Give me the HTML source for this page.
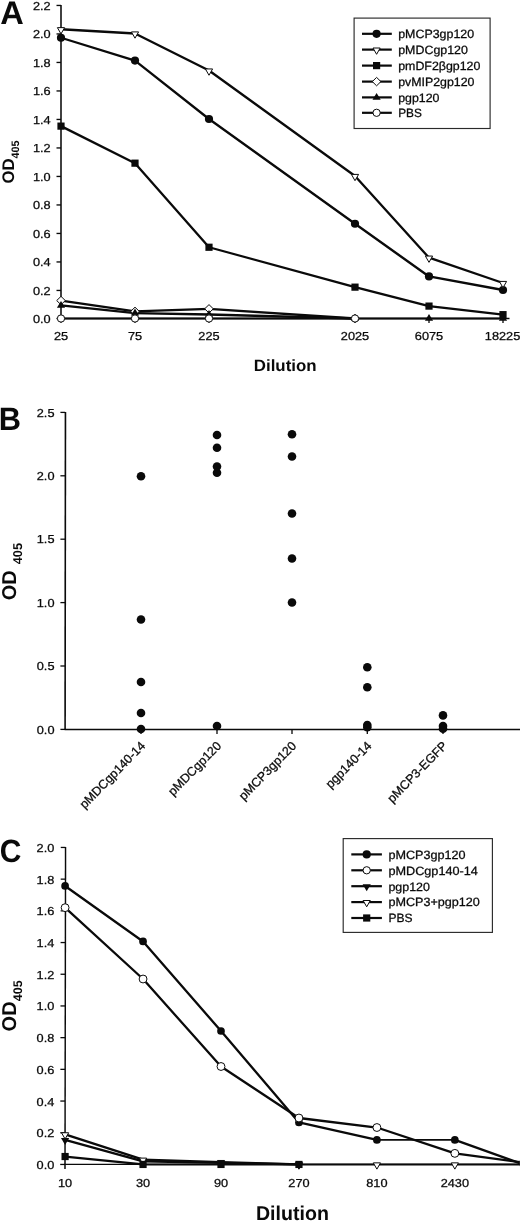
<!DOCTYPE html>
<html><head><meta charset="utf-8"><title>Figure</title>
<style>
html,body{margin:0;padding:0;background:#fff;}
body{width:520px;height:1222px;overflow:hidden;font-family:"Liberation Sans", sans-serif;}
svg{display:block;font-family:"Liberation Sans", sans-serif;text-rendering:geometricPrecision;}
#all{filter:blur(0.35px);}
</style></head><body>
<svg width="520" height="1222" viewBox="0 0 520 1222">
<rect x="0" y="0" width="520" height="1222" fill="#ffffff"/>
<g id="all">
<line x1="61.0" y1="5.0" x2="61.0" y2="319.0" stroke="#0a0a0a" stroke-width="1.55" stroke-linecap="butt"/>
<line x1="56.5" y1="318.5" x2="61.0" y2="318.5" stroke="#0a0a0a" stroke-width="1.35" stroke-linecap="butt"/>
<text transform="translate(50.7 322.65) scale(1.1 1)" font-size="11.6" font-weight="normal" text-anchor="end" fill="#0a0a0a" stroke="#0a0a0a" stroke-width="0.28">0.0</text>
<line x1="56.5" y1="290.45" x2="61.0" y2="290.45" stroke="#0a0a0a" stroke-width="1.35" stroke-linecap="butt"/>
<text transform="translate(50.7 294.59999999999997) scale(1.1 1)" font-size="11.6" font-weight="normal" text-anchor="end" fill="#0a0a0a" stroke="#0a0a0a" stroke-width="0.28">0.2</text>
<line x1="56.5" y1="261.95" x2="61.0" y2="261.95" stroke="#0a0a0a" stroke-width="1.35" stroke-linecap="butt"/>
<text transform="translate(50.7 266.09999999999997) scale(1.1 1)" font-size="11.6" font-weight="normal" text-anchor="end" fill="#0a0a0a" stroke="#0a0a0a" stroke-width="0.28">0.4</text>
<line x1="56.5" y1="233.45" x2="61.0" y2="233.45" stroke="#0a0a0a" stroke-width="1.35" stroke-linecap="butt"/>
<text transform="translate(50.7 237.6) scale(1.1 1)" font-size="11.6" font-weight="normal" text-anchor="end" fill="#0a0a0a" stroke="#0a0a0a" stroke-width="0.28">0.6</text>
<line x1="56.5" y1="204.95" x2="61.0" y2="204.95" stroke="#0a0a0a" stroke-width="1.35" stroke-linecap="butt"/>
<text transform="translate(50.7 209.1) scale(1.1 1)" font-size="11.6" font-weight="normal" text-anchor="end" fill="#0a0a0a" stroke="#0a0a0a" stroke-width="0.28">0.8</text>
<line x1="56.5" y1="176.45" x2="61.0" y2="176.45" stroke="#0a0a0a" stroke-width="1.35" stroke-linecap="butt"/>
<text transform="translate(50.7 180.6) scale(1.1 1)" font-size="11.6" font-weight="normal" text-anchor="end" fill="#0a0a0a" stroke="#0a0a0a" stroke-width="0.28">1.0</text>
<line x1="56.5" y1="147.94999999999996" x2="61.0" y2="147.94999999999996" stroke="#0a0a0a" stroke-width="1.35" stroke-linecap="butt"/>
<text transform="translate(50.7 152.09999999999997) scale(1.1 1)" font-size="11.6" font-weight="normal" text-anchor="end" fill="#0a0a0a" stroke="#0a0a0a" stroke-width="0.28">1.2</text>
<line x1="56.5" y1="119.44999999999997" x2="61.0" y2="119.44999999999997" stroke="#0a0a0a" stroke-width="1.35" stroke-linecap="butt"/>
<text transform="translate(50.7 123.59999999999998) scale(1.1 1)" font-size="11.6" font-weight="normal" text-anchor="end" fill="#0a0a0a" stroke="#0a0a0a" stroke-width="0.28">1.4</text>
<line x1="56.5" y1="90.95" x2="61.0" y2="90.95" stroke="#0a0a0a" stroke-width="1.35" stroke-linecap="butt"/>
<text transform="translate(50.7 95.10000000000001) scale(1.1 1)" font-size="11.6" font-weight="normal" text-anchor="end" fill="#0a0a0a" stroke="#0a0a0a" stroke-width="0.28">1.6</text>
<line x1="56.5" y1="62.45" x2="61.0" y2="62.45" stroke="#0a0a0a" stroke-width="1.35" stroke-linecap="butt"/>
<text transform="translate(50.7 66.60000000000001) scale(1.1 1)" font-size="11.6" font-weight="normal" text-anchor="end" fill="#0a0a0a" stroke="#0a0a0a" stroke-width="0.28">1.8</text>
<line x1="56.5" y1="33.95" x2="61.0" y2="33.95" stroke="#0a0a0a" stroke-width="1.35" stroke-linecap="butt"/>
<text transform="translate(50.7 38.1) scale(1.1 1)" font-size="11.6" font-weight="normal" text-anchor="end" fill="#0a0a0a" stroke="#0a0a0a" stroke-width="0.28">2.0</text>
<line x1="56.5" y1="5.45" x2="61.0" y2="5.45" stroke="#0a0a0a" stroke-width="1.35" stroke-linecap="butt"/>
<text transform="translate(50.7 9.600000000000001) scale(1.1 1)" font-size="11.6" font-weight="normal" text-anchor="end" fill="#0a0a0a" stroke="#0a0a0a" stroke-width="0.28">2.2</text>
<line x1="61.0" y1="318.5" x2="509.5" y2="318.5" stroke="#0a0a0a" stroke-width="1.3" stroke-linecap="butt"/>
<line x1="61" y1="318.5" x2="61" y2="323.1" stroke="#0a0a0a" stroke-width="1.3" stroke-linecap="butt"/>
<line x1="135" y1="318.5" x2="135" y2="323.1" stroke="#0a0a0a" stroke-width="1.3" stroke-linecap="butt"/>
<line x1="209" y1="318.5" x2="209" y2="323.1" stroke="#0a0a0a" stroke-width="1.3" stroke-linecap="butt"/>
<line x1="355" y1="318.5" x2="355" y2="323.1" stroke="#0a0a0a" stroke-width="1.3" stroke-linecap="butt"/>
<line x1="429" y1="318.5" x2="429" y2="323.1" stroke="#0a0a0a" stroke-width="1.3" stroke-linecap="butt"/>
<line x1="503" y1="318.5" x2="503" y2="323.1" stroke="#0a0a0a" stroke-width="1.3" stroke-linecap="butt"/>
<text transform="translate(61 340.4) scale(1.1 1)" font-size="11.6" font-weight="normal" text-anchor="middle" fill="#0a0a0a" stroke="#0a0a0a" stroke-width="0.28">25</text>
<text transform="translate(135 340.4) scale(1.1 1)" font-size="11.6" font-weight="normal" text-anchor="middle" fill="#0a0a0a" stroke="#0a0a0a" stroke-width="0.28">75</text>
<text transform="translate(209 340.4) scale(1.1 1)" font-size="11.6" font-weight="normal" text-anchor="middle" fill="#0a0a0a" stroke="#0a0a0a" stroke-width="0.28">225</text>
<text transform="translate(355 340.4) scale(1.1 1)" font-size="11.6" font-weight="normal" text-anchor="middle" fill="#0a0a0a" stroke="#0a0a0a" stroke-width="0.28">2025</text>
<text transform="translate(429 340.4) scale(1.1 1)" font-size="11.6" font-weight="normal" text-anchor="middle" fill="#0a0a0a" stroke="#0a0a0a" stroke-width="0.28">6075</text>
<text transform="translate(520.3 340.4) scale(1.1 1)" font-size="11.6" font-weight="normal" text-anchor="end" fill="#0a0a0a" stroke="#0a0a0a" stroke-width="0.28">18225</text>
<text transform="translate(285.2 370.9)" font-size="16.3" font-weight="bold" text-anchor="middle" fill="#0a0a0a" textLength="62.8" lengthAdjust="spacingAndGlyphs">Dilution</text>
<text transform="translate(0.2 23.7)" font-size="32.6" font-weight="bold" text-anchor="start" fill="#0a0a0a">A</text>
<text transform="translate(13.5 183.6) rotate(-90)" font-size="16.8" font-weight="bold" text-anchor="start" fill="#0a0a0a">OD</text>
<text transform="translate(18.9 158.5) rotate(-90)" font-size="10.8" font-weight="bold" text-anchor="start" fill="#0a0a0a">405</text>
<line x1="61.00" y1="37.77" x2="135.00" y2="60.57" stroke="#0a0a0a" stroke-width="2.3" stroke-linecap="round"/>
<line x1="135.00" y1="60.57" x2="209.00" y2="119.00" stroke="#0a0a0a" stroke-width="2.3" stroke-linecap="round"/>
<line x1="209.00" y1="119.00" x2="355.00" y2="223.74" stroke="#0a0a0a" stroke-width="2.3" stroke-linecap="round"/>
<line x1="355.00" y1="223.74" x2="429.00" y2="276.46" stroke="#0a0a0a" stroke-width="2.3" stroke-linecap="round"/>
<line x1="429.00" y1="276.46" x2="503.00" y2="290.00" stroke="#0a0a0a" stroke-width="2.3" stroke-linecap="round"/>
<line x1="61.00" y1="29.23" x2="135.00" y2="33.50" stroke="#0a0a0a" stroke-width="2.3" stroke-linecap="round"/>
<line x1="135.00" y1="33.50" x2="209.00" y2="70.55" stroke="#0a0a0a" stroke-width="2.3" stroke-linecap="round"/>
<line x1="209.00" y1="70.55" x2="355.00" y2="176.00" stroke="#0a0a0a" stroke-width="2.3" stroke-linecap="round"/>
<line x1="355.00" y1="176.00" x2="429.00" y2="257.65" stroke="#0a0a0a" stroke-width="2.3" stroke-linecap="round"/>
<line x1="429.00" y1="257.65" x2="503.00" y2="283.02" stroke="#0a0a0a" stroke-width="2.3" stroke-linecap="round"/>
<line x1="61.00" y1="126.12" x2="135.00" y2="163.17" stroke="#0a0a0a" stroke-width="2.3" stroke-linecap="round"/>
<line x1="135.00" y1="163.17" x2="209.00" y2="247.25" stroke="#0a0a0a" stroke-width="2.3" stroke-linecap="round"/>
<line x1="209.00" y1="247.25" x2="355.00" y2="287.15" stroke="#0a0a0a" stroke-width="2.3" stroke-linecap="round"/>
<line x1="355.00" y1="287.15" x2="429.00" y2="306.10" stroke="#0a0a0a" stroke-width="2.3" stroke-linecap="round"/>
<line x1="429.00" y1="306.10" x2="503.00" y2="314.65" stroke="#0a0a0a" stroke-width="2.3" stroke-linecap="round"/>
<line x1="61.00" y1="300.55" x2="135.00" y2="311.38" stroke="#0a0a0a" stroke-width="2.3" stroke-linecap="round"/>
<line x1="135.00" y1="311.38" x2="209.00" y2="308.81" stroke="#0a0a0a" stroke-width="2.3" stroke-linecap="round"/>
<line x1="209.00" y1="308.81" x2="355.00" y2="318.50" stroke="#0a0a0a" stroke-width="2.3" stroke-linecap="round"/>
<line x1="61.00" y1="305.39" x2="135.00" y2="313.08" stroke="#0a0a0a" stroke-width="2.3" stroke-linecap="round"/>
<line x1="135.00" y1="313.08" x2="209.00" y2="314.51" stroke="#0a0a0a" stroke-width="2.3" stroke-linecap="round"/>
<line x1="209.00" y1="314.51" x2="355.00" y2="318.50" stroke="#0a0a0a" stroke-width="2.3" stroke-linecap="round"/>
<line x1="355.00" y1="318.50" x2="429.00" y2="318.50" stroke="#0a0a0a" stroke-width="1.95" stroke-linecap="round"/>
<line x1="429.00" y1="318.50" x2="503.00" y2="318.50" stroke="#0a0a0a" stroke-width="1.95" stroke-linecap="round"/>
<line x1="61.00" y1="318.50" x2="135.00" y2="318.50" stroke="#0a0a0a" stroke-width="1.95" stroke-linecap="round"/>
<line x1="135.00" y1="318.50" x2="209.00" y2="318.50" stroke="#0a0a0a" stroke-width="1.95" stroke-linecap="round"/>
<line x1="209.00" y1="318.50" x2="355.00" y2="318.50" stroke="#0a0a0a" stroke-width="1.95" stroke-linecap="round"/>
<circle cx="61.00" cy="37.77" r="4.10" fill="#0a0a0a"/>
<circle cx="135.00" cy="60.57" r="4.10" fill="#0a0a0a"/>
<circle cx="209.00" cy="119.00" r="4.10" fill="#0a0a0a"/>
<circle cx="355.00" cy="223.74" r="4.10" fill="#0a0a0a"/>
<circle cx="429.00" cy="276.46" r="4.10" fill="#0a0a0a"/>
<circle cx="503.00" cy="290.00" r="4.10" fill="#0a0a0a"/>
<polygon points="57.40,27.63 64.60,27.63 61.00,33.93" fill="#fff" stroke="#0a0a0a" stroke-width="1"/>
<polygon points="131.40,31.90 138.60,31.90 135.00,38.20" fill="#fff" stroke="#0a0a0a" stroke-width="1"/>
<polygon points="205.40,68.95 212.60,68.95 209.00,75.25" fill="#fff" stroke="#0a0a0a" stroke-width="1"/>
<polygon points="351.40,174.40 358.60,174.40 355.00,180.70" fill="#fff" stroke="#0a0a0a" stroke-width="1"/>
<polygon points="425.40,256.05 432.60,256.05 429.00,262.35" fill="#fff" stroke="#0a0a0a" stroke-width="1"/>
<polygon points="499.40,281.42 506.60,281.42 503.00,287.72" fill="#fff" stroke="#0a0a0a" stroke-width="1"/>
<polygon points="56.70,300.55 61.00,296.35 65.30,300.55 61.00,304.75" fill="#fff" stroke="#0a0a0a" stroke-width="1"/>
<polygon points="130.70,311.38 135.00,307.18 139.30,311.38 135.00,315.57" fill="#fff" stroke="#0a0a0a" stroke-width="1"/>
<polygon points="204.70,308.81 209.00,304.61 213.30,308.81 209.00,313.01" fill="#fff" stroke="#0a0a0a" stroke-width="1"/>
<polygon points="350.70,318.50 355.00,314.30 359.30,318.50 355.00,322.70" fill="#fff" stroke="#0a0a0a" stroke-width="1"/>
<polygon points="56.90,307.69 65.10,307.69 61.00,300.89" fill="#0a0a0a"/>
<polygon points="130.90,315.38 139.10,315.38 135.00,308.58" fill="#0a0a0a"/>
<polygon points="204.90,316.81 213.10,316.81 209.00,310.01" fill="#0a0a0a"/>
<polygon points="350.90,320.80 359.10,320.80 355.00,314.00" fill="#0a0a0a"/>
<polygon points="424.90,320.80 433.10,320.80 429.00,314.00" fill="#0a0a0a"/>
<polygon points="498.90,320.80 507.10,320.80 503.00,314.00" fill="#0a0a0a"/>
<circle cx="61.00" cy="318.50" r="3.65" fill="#fff" stroke="#0a0a0a" stroke-width="1"/>
<circle cx="135.00" cy="318.50" r="3.65" fill="#fff" stroke="#0a0a0a" stroke-width="1"/>
<circle cx="209.00" cy="318.50" r="3.65" fill="#fff" stroke="#0a0a0a" stroke-width="1"/>
<circle cx="355.00" cy="318.50" r="3.65" fill="#fff" stroke="#0a0a0a" stroke-width="1"/>
<rect x="57.40" y="122.53" width="7.20" height="7.20" fill="#0a0a0a"/>
<rect x="131.40" y="159.57" width="7.20" height="7.20" fill="#0a0a0a"/>
<rect x="205.40" y="243.65" width="7.20" height="7.20" fill="#0a0a0a"/>
<rect x="351.40" y="283.55" width="7.20" height="7.20" fill="#0a0a0a"/>
<rect x="425.40" y="302.50" width="7.20" height="7.20" fill="#0a0a0a"/>
<rect x="499.40" y="311.05" width="7.20" height="7.20" fill="#0a0a0a"/>
<rect x="354.1" y="18.1" width="136.0" height="110.4" fill="none" stroke="#2a2a2a" stroke-width="1.15"/>
<line x1="362" y1="33.8" x2="391.8" y2="33.8" stroke="#0a0a0a" stroke-width="2.2" stroke-linecap="butt"/>
<circle cx="376.60" cy="33.80" r="4.10" fill="#0a0a0a"/>
<text transform="translate(398.2 38.099999999999994)" font-size="12" font-weight="normal" text-anchor="start" fill="#0a0a0a" stroke="#0a0a0a" stroke-width="0.28" textLength="75.9" lengthAdjust="spacingAndGlyphs">pMCP3gp120</text>
<line x1="362" y1="49.6" x2="391.8" y2="49.6" stroke="#0a0a0a" stroke-width="2.2" stroke-linecap="butt"/>
<polygon points="373.00,48.00 380.20,48.00 376.60,54.30" fill="#fff" stroke="#0a0a0a" stroke-width="1"/>
<text transform="translate(398.2 53.9)" font-size="12" font-weight="normal" text-anchor="start" fill="#0a0a0a" stroke="#0a0a0a" stroke-width="0.28" textLength="69.7" lengthAdjust="spacingAndGlyphs">pMDCgp120</text>
<line x1="362" y1="65.6" x2="391.8" y2="65.6" stroke="#0a0a0a" stroke-width="2.2" stroke-linecap="butt"/>
<rect x="373.00" y="62.00" width="7.20" height="7.20" fill="#0a0a0a"/>
<text transform="translate(398.2 69.89999999999999)" font-size="12" font-weight="normal" text-anchor="start" fill="#0a0a0a" stroke="#0a0a0a" stroke-width="0.28" textLength="82.2" lengthAdjust="spacingAndGlyphs">pmDF2βgp120</text>
<line x1="362" y1="81.6" x2="391.8" y2="81.6" stroke="#0a0a0a" stroke-width="2.2" stroke-linecap="butt"/>
<polygon points="372.30,81.60 376.60,77.40 380.90,81.60 376.60,85.80" fill="#fff" stroke="#0a0a0a" stroke-width="1"/>
<text transform="translate(398.2 85.89999999999999)" font-size="12" font-weight="normal" text-anchor="start" fill="#0a0a0a" stroke="#0a0a0a" stroke-width="0.28" textLength="76.3" lengthAdjust="spacingAndGlyphs">pvMIP2gp120</text>
<line x1="362" y1="97.4" x2="391.8" y2="97.4" stroke="#0a0a0a" stroke-width="2.2" stroke-linecap="butt"/>
<polygon points="372.50,99.70 380.70,99.70 376.60,92.90" fill="#0a0a0a"/>
<text transform="translate(398.2 101.7)" font-size="12" font-weight="normal" text-anchor="start" fill="#0a0a0a" stroke="#0a0a0a" stroke-width="0.28" textLength="41.3" lengthAdjust="spacingAndGlyphs">pgp120</text>
<line x1="362" y1="112.8" x2="391.8" y2="112.8" stroke="#0a0a0a" stroke-width="2.2" stroke-linecap="butt"/>
<circle cx="376.60" cy="112.80" r="3.65" fill="#fff" stroke="#0a0a0a" stroke-width="1"/>
<text transform="translate(398.2 117.1)" font-size="12" font-weight="normal" text-anchor="start" fill="#0a0a0a" stroke="#0a0a0a" stroke-width="0.28" textLength="23.6" lengthAdjust="spacingAndGlyphs">PBS</text>
<line x1="65.45" y1="411.9" x2="65.10000000000001" y2="729.9" stroke="#0a0a0a" stroke-width="1.6" stroke-linecap="butt"/>
<line x1="64.65" y1="729.4499999999999" x2="520" y2="729.4499999999999" stroke="#0a0a0a" stroke-width="1.5" stroke-linecap="butt"/>
<line x1="60.4" y1="729.4" x2="65.15" y2="729.4" stroke="#0a0a0a" stroke-width="1.3" stroke-linecap="butt"/>
<text transform="translate(54.5 733.55) scale(1.1 1)" font-size="11.6" font-weight="normal" text-anchor="end" fill="#0a0a0a" stroke="#0a0a0a" stroke-width="0.28">0.0</text>
<line x1="60.4" y1="666.0" x2="65.15" y2="666.0" stroke="#0a0a0a" stroke-width="1.3" stroke-linecap="butt"/>
<text transform="translate(54.5 670.15) scale(1.1 1)" font-size="11.6" font-weight="normal" text-anchor="end" fill="#0a0a0a" stroke="#0a0a0a" stroke-width="0.28">0.5</text>
<line x1="60.4" y1="602.6" x2="65.15" y2="602.6" stroke="#0a0a0a" stroke-width="1.3" stroke-linecap="butt"/>
<text transform="translate(54.5 606.75) scale(1.1 1)" font-size="11.6" font-weight="normal" text-anchor="end" fill="#0a0a0a" stroke="#0a0a0a" stroke-width="0.28">1.0</text>
<line x1="60.4" y1="539.2" x2="65.15" y2="539.2" stroke="#0a0a0a" stroke-width="1.3" stroke-linecap="butt"/>
<text transform="translate(54.5 543.35) scale(1.1 1)" font-size="11.6" font-weight="normal" text-anchor="end" fill="#0a0a0a" stroke="#0a0a0a" stroke-width="0.28">1.5</text>
<line x1="60.4" y1="475.79999999999995" x2="65.15" y2="475.79999999999995" stroke="#0a0a0a" stroke-width="1.3" stroke-linecap="butt"/>
<text transform="translate(54.5 479.94999999999993) scale(1.1 1)" font-size="11.6" font-weight="normal" text-anchor="end" fill="#0a0a0a" stroke="#0a0a0a" stroke-width="0.28">2.0</text>
<line x1="60.4" y1="412.4" x2="65.15" y2="412.4" stroke="#0a0a0a" stroke-width="1.3" stroke-linecap="butt"/>
<text transform="translate(54.5 416.54999999999995) scale(1.1 1)" font-size="11.6" font-weight="normal" text-anchor="end" fill="#0a0a0a" stroke="#0a0a0a" stroke-width="0.28">2.5</text>
<text transform="translate(-1.2 429.8) scale(0.95 1)" font-size="32.4" font-weight="bold" text-anchor="start" fill="#0a0a0a">B</text>
<text transform="translate(16.1 600.3) rotate(-90)" font-size="20" font-weight="bold" text-anchor="start" fill="#0a0a0a">OD</text>
<text transform="translate(21.9 564.3) rotate(-90)" font-size="12.8" font-weight="bold" text-anchor="start" fill="#0a0a0a">405</text>
<line x1="141" y1="729.4" x2="141" y2="733.9" stroke="#0a0a0a" stroke-width="1.3" stroke-linecap="butt"/>
<text transform="translate(146.0 746.5) rotate(-45.7)" font-size="12.45" font-weight="normal" text-anchor="end" fill="#0a0a0a" stroke="#0a0a0a" stroke-width="0.28">pMDCgp140-14</text>
<line x1="217" y1="729.4" x2="217" y2="733.9" stroke="#0a0a0a" stroke-width="1.3" stroke-linecap="butt"/>
<text transform="translate(222.0 746.5) rotate(-45.7)" font-size="12.45" font-weight="normal" text-anchor="end" fill="#0a0a0a" stroke="#0a0a0a" stroke-width="0.28">pMDCgp120</text>
<line x1="292" y1="729.4" x2="292" y2="733.9" stroke="#0a0a0a" stroke-width="1.3" stroke-linecap="butt"/>
<text transform="translate(297.0 746.5) rotate(-45.7)" font-size="12.45" font-weight="normal" text-anchor="end" fill="#0a0a0a" stroke="#0a0a0a" stroke-width="0.28">pMCP3gp120</text>
<line x1="367.3" y1="729.4" x2="367.3" y2="733.9" stroke="#0a0a0a" stroke-width="1.3" stroke-linecap="butt"/>
<text transform="translate(372.3 746.5) rotate(-45.7)" font-size="12.45" font-weight="normal" text-anchor="end" fill="#0a0a0a" stroke="#0a0a0a" stroke-width="0.28">pgp140-14</text>
<line x1="443" y1="729.4" x2="443" y2="733.9" stroke="#0a0a0a" stroke-width="1.3" stroke-linecap="butt"/>
<text transform="translate(448.0 746.5) rotate(-45.7)" font-size="12.45" font-weight="normal" text-anchor="end" fill="#0a0a0a" stroke="#0a0a0a" stroke-width="0.28">pMCP3-EGFP</text>
<circle cx="141" cy="476.2" r="4.3" fill="#0a0a0a"/>
<circle cx="141" cy="619.5" r="4.3" fill="#0a0a0a"/>
<circle cx="141" cy="682" r="4.3" fill="#0a0a0a"/>
<circle cx="141" cy="713" r="4.3" fill="#0a0a0a"/>
<circle cx="141" cy="729" r="4.3" fill="#0a0a0a"/>
<circle cx="217" cy="435" r="4.3" fill="#0a0a0a"/>
<circle cx="217" cy="447.7" r="4.3" fill="#0a0a0a"/>
<circle cx="217" cy="466.5" r="4.3" fill="#0a0a0a"/>
<circle cx="217" cy="472.7" r="4.3" fill="#0a0a0a"/>
<circle cx="217" cy="726" r="4.3" fill="#0a0a0a"/>
<circle cx="292" cy="434.2" r="4.3" fill="#0a0a0a"/>
<circle cx="292" cy="456.5" r="4.3" fill="#0a0a0a"/>
<circle cx="292" cy="513.5" r="4.3" fill="#0a0a0a"/>
<circle cx="292" cy="558.5" r="4.3" fill="#0a0a0a"/>
<circle cx="292" cy="602.5" r="4.3" fill="#0a0a0a"/>
<circle cx="367.3" cy="667.3" r="4.3" fill="#0a0a0a"/>
<circle cx="367.3" cy="687.3" r="4.3" fill="#0a0a0a"/>
<circle cx="367.3" cy="725" r="4.3" fill="#0a0a0a"/>
<circle cx="367.3" cy="727.3" r="4.3" fill="#0a0a0a"/>
<circle cx="443" cy="715.4" r="4.3" fill="#0a0a0a"/>
<circle cx="443" cy="726" r="4.3" fill="#0a0a0a"/>
<circle cx="443" cy="728.7" r="4.3" fill="#0a0a0a"/>
<line x1="65.55" y1="847.0" x2="65.0" y2="1168.95" stroke="#0a0a0a" stroke-width="1.45" stroke-linecap="butt"/>
<line x1="64.45" y1="1164.45" x2="520" y2="1164.45" stroke="#0a0a0a" stroke-width="1.3" stroke-linecap="butt"/>
<line x1="60.2" y1="1164.45" x2="64.95" y2="1164.45" stroke="#0a0a0a" stroke-width="1.3" stroke-linecap="butt"/>
<text transform="translate(54.3 1168.9) scale(1.1 1)" font-size="11.6" font-weight="normal" text-anchor="end" fill="#0a0a0a" stroke="#0a0a0a" stroke-width="0.28">0.0</text>
<line x1="60.255" y1="1132.75" x2="65.00500000000001" y2="1132.75" stroke="#0a0a0a" stroke-width="1.3" stroke-linecap="butt"/>
<text transform="translate(54.3 1137.2) scale(1.1 1)" font-size="11.6" font-weight="normal" text-anchor="end" fill="#0a0a0a" stroke="#0a0a0a" stroke-width="0.28">0.2</text>
<line x1="60.31" y1="1101.05" x2="65.06" y2="1101.05" stroke="#0a0a0a" stroke-width="1.3" stroke-linecap="butt"/>
<text transform="translate(54.3 1105.5) scale(1.1 1)" font-size="11.6" font-weight="normal" text-anchor="end" fill="#0a0a0a" stroke="#0a0a0a" stroke-width="0.28">0.4</text>
<line x1="60.365" y1="1069.3500000000001" x2="65.11500000000001" y2="1069.3500000000001" stroke="#0a0a0a" stroke-width="1.3" stroke-linecap="butt"/>
<text transform="translate(54.3 1073.8000000000002) scale(1.1 1)" font-size="11.6" font-weight="normal" text-anchor="end" fill="#0a0a0a" stroke="#0a0a0a" stroke-width="0.28">0.6</text>
<line x1="60.42" y1="1037.65" x2="65.17" y2="1037.65" stroke="#0a0a0a" stroke-width="1.3" stroke-linecap="butt"/>
<text transform="translate(54.3 1042.1000000000001) scale(1.1 1)" font-size="11.6" font-weight="normal" text-anchor="end" fill="#0a0a0a" stroke="#0a0a0a" stroke-width="0.28">0.8</text>
<line x1="60.475" y1="1005.95" x2="65.22500000000001" y2="1005.95" stroke="#0a0a0a" stroke-width="1.3" stroke-linecap="butt"/>
<text transform="translate(54.3 1010.4000000000001) scale(1.1 1)" font-size="11.6" font-weight="normal" text-anchor="end" fill="#0a0a0a" stroke="#0a0a0a" stroke-width="0.28">1.0</text>
<line x1="60.53" y1="974.25" x2="65.28" y2="974.25" stroke="#0a0a0a" stroke-width="1.3" stroke-linecap="butt"/>
<text transform="translate(54.3 978.7) scale(1.1 1)" font-size="11.6" font-weight="normal" text-anchor="end" fill="#0a0a0a" stroke="#0a0a0a" stroke-width="0.28">1.2</text>
<line x1="60.585" y1="942.55" x2="65.33500000000001" y2="942.55" stroke="#0a0a0a" stroke-width="1.3" stroke-linecap="butt"/>
<text transform="translate(54.3 947.0) scale(1.1 1)" font-size="11.6" font-weight="normal" text-anchor="end" fill="#0a0a0a" stroke="#0a0a0a" stroke-width="0.28">1.4</text>
<line x1="60.64" y1="910.85" x2="65.39" y2="910.85" stroke="#0a0a0a" stroke-width="1.3" stroke-linecap="butt"/>
<text transform="translate(54.3 915.3000000000001) scale(1.1 1)" font-size="11.6" font-weight="normal" text-anchor="end" fill="#0a0a0a" stroke="#0a0a0a" stroke-width="0.28">1.6</text>
<line x1="60.695" y1="879.1500000000001" x2="65.44500000000001" y2="879.1500000000001" stroke="#0a0a0a" stroke-width="1.3" stroke-linecap="butt"/>
<text transform="translate(54.3 883.6000000000001) scale(1.1 1)" font-size="11.6" font-weight="normal" text-anchor="end" fill="#0a0a0a" stroke="#0a0a0a" stroke-width="0.28">1.8</text>
<line x1="60.75" y1="847.45" x2="65.5" y2="847.45" stroke="#0a0a0a" stroke-width="1.3" stroke-linecap="butt"/>
<text transform="translate(54.3 851.9000000000001) scale(1.1 1)" font-size="11.6" font-weight="normal" text-anchor="end" fill="#0a0a0a" stroke="#0a0a0a" stroke-width="0.28">2.0</text>
<text transform="translate(65.1 1187.0) scale(1.1 1)" font-size="11.6" font-weight="normal" text-anchor="middle" fill="#0a0a0a" stroke="#0a0a0a" stroke-width="0.28">10</text>
<text transform="translate(143.05 1187.0) scale(1.1 1)" font-size="11.6" font-weight="normal" text-anchor="middle" fill="#0a0a0a" stroke="#0a0a0a" stroke-width="0.28">30</text>
<text transform="translate(221.0 1187.0) scale(1.1 1)" font-size="11.6" font-weight="normal" text-anchor="middle" fill="#0a0a0a" stroke="#0a0a0a" stroke-width="0.28">90</text>
<text transform="translate(298.95000000000005 1187.0) scale(1.1 1)" font-size="11.6" font-weight="normal" text-anchor="middle" fill="#0a0a0a" stroke="#0a0a0a" stroke-width="0.28">270</text>
<text transform="translate(376.9 1187.0) scale(1.1 1)" font-size="11.6" font-weight="normal" text-anchor="middle" fill="#0a0a0a" stroke="#0a0a0a" stroke-width="0.28">810</text>
<text transform="translate(454.85 1187.0) scale(1.1 1)" font-size="11.6" font-weight="normal" text-anchor="middle" fill="#0a0a0a" stroke="#0a0a0a" stroke-width="0.28">2430</text>
<text transform="translate(292.4 1219.5)" font-size="20" font-weight="bold" text-anchor="middle" fill="#0a0a0a" textLength="72.9" lengthAdjust="spacingAndGlyphs">Dilution</text>
<text transform="translate(-0.2 862.0) scale(0.93 1)" font-size="32.2" font-weight="bold" text-anchor="start" fill="#0a0a0a">C</text>
<text transform="translate(15.9 1031.4) rotate(-90)" font-size="20" font-weight="bold" text-anchor="start" fill="#0a0a0a">OD</text>
<text transform="translate(21.9 1001.2) rotate(-90)" font-size="12.5" font-weight="bold" text-anchor="start" fill="#0a0a0a">405</text>
<clipPath id="cc"><rect x="0" y="820" width="520" height="402"/></clipPath><g clip-path="url(#cc)">
<line x1="65.10" y1="885.97" x2="143.05" y2="941.44" stroke="#0a0a0a" stroke-width="2.3" stroke-linecap="round"/>
<line x1="143.05" y1="941.44" x2="221.00" y2="1030.99" stroke="#0a0a0a" stroke-width="2.3" stroke-linecap="round"/>
<line x1="221.00" y1="1030.99" x2="298.95" y2="1122.45" stroke="#0a0a0a" stroke-width="2.3" stroke-linecap="round"/>
<line x1="298.95" y1="1122.45" x2="376.90" y2="1139.88" stroke="#0a0a0a" stroke-width="2.3" stroke-linecap="round"/>
<line x1="376.90" y1="1139.88" x2="454.85" y2="1139.88" stroke="#0a0a0a" stroke-width="1.95" stroke-linecap="round"/>
<line x1="454.85" y1="1139.88" x2="523.60" y2="1164.45" stroke="#0a0a0a" stroke-width="2.3" stroke-linecap="round"/>
<line x1="65.10" y1="907.68" x2="143.05" y2="979.01" stroke="#0a0a0a" stroke-width="2.3" stroke-linecap="round"/>
<line x1="143.05" y1="979.01" x2="221.00" y2="1066.50" stroke="#0a0a0a" stroke-width="2.3" stroke-linecap="round"/>
<line x1="221.00" y1="1066.50" x2="298.95" y2="1118.01" stroke="#0a0a0a" stroke-width="2.3" stroke-linecap="round"/>
<line x1="298.95" y1="1118.01" x2="376.90" y2="1127.52" stroke="#0a0a0a" stroke-width="2.3" stroke-linecap="round"/>
<line x1="376.90" y1="1127.52" x2="454.85" y2="1153.36" stroke="#0a0a0a" stroke-width="2.3" stroke-linecap="round"/>
<line x1="454.85" y1="1153.36" x2="523.60" y2="1162.55" stroke="#0a0a0a" stroke-width="2.3" stroke-linecap="round"/>
<line x1="65.10" y1="1139.88" x2="143.05" y2="1161.28" stroke="#0a0a0a" stroke-width="2.3" stroke-linecap="round"/>
<line x1="143.05" y1="1161.28" x2="221.00" y2="1162.87" stroke="#0a0a0a" stroke-width="2.3" stroke-linecap="round"/>
<line x1="221.00" y1="1162.87" x2="298.95" y2="1164.45" stroke="#0a0a0a" stroke-width="2.3" stroke-linecap="round"/>
<line x1="65.10" y1="1134.34" x2="143.05" y2="1159.69" stroke="#0a0a0a" stroke-width="2.3" stroke-linecap="round"/>
<line x1="143.05" y1="1159.69" x2="221.00" y2="1162.07" stroke="#0a0a0a" stroke-width="2.3" stroke-linecap="round"/>
<line x1="221.00" y1="1162.07" x2="298.95" y2="1164.45" stroke="#0a0a0a" stroke-width="2.3" stroke-linecap="round"/>
<line x1="298.95" y1="1164.45" x2="376.90" y2="1164.45" stroke="#0a0a0a" stroke-width="1.95" stroke-linecap="round"/>
<line x1="376.90" y1="1164.45" x2="454.85" y2="1164.45" stroke="#0a0a0a" stroke-width="1.95" stroke-linecap="round"/>
<line x1="454.85" y1="1164.45" x2="523.60" y2="1164.45" stroke="#0a0a0a" stroke-width="1.95" stroke-linecap="round"/>
<line x1="65.10" y1="1156.53" x2="143.05" y2="1164.45" stroke="#0a0a0a" stroke-width="2.3" stroke-linecap="round"/>
<line x1="143.05" y1="1164.45" x2="221.00" y2="1164.45" stroke="#0a0a0a" stroke-width="1.95" stroke-linecap="round"/>
<line x1="221.00" y1="1164.45" x2="298.95" y2="1164.45" stroke="#0a0a0a" stroke-width="1.95" stroke-linecap="round"/>
<circle cx="65.10" cy="885.97" r="3.85" fill="#0a0a0a"/>
<circle cx="143.05" cy="941.44" r="3.85" fill="#0a0a0a"/>
<circle cx="221.00" cy="1030.99" r="3.85" fill="#0a0a0a"/>
<circle cx="298.95" cy="1122.45" r="3.85" fill="#0a0a0a"/>
<circle cx="376.90" cy="1139.88" r="3.85" fill="#0a0a0a"/>
<circle cx="454.85" cy="1139.88" r="3.85" fill="#0a0a0a"/>
<circle cx="523.60" cy="1164.45" r="3.85" fill="#0a0a0a"/>
<circle cx="65.10" cy="907.68" r="3.94" fill="#fff" stroke="#0a0a0a" stroke-width="1"/>
<circle cx="143.05" cy="979.01" r="3.94" fill="#fff" stroke="#0a0a0a" stroke-width="1"/>
<circle cx="221.00" cy="1066.50" r="3.94" fill="#fff" stroke="#0a0a0a" stroke-width="1"/>
<circle cx="298.95" cy="1118.01" r="3.94" fill="#fff" stroke="#0a0a0a" stroke-width="1"/>
<circle cx="376.90" cy="1127.52" r="3.94" fill="#fff" stroke="#0a0a0a" stroke-width="1"/>
<circle cx="454.85" cy="1153.36" r="3.94" fill="#fff" stroke="#0a0a0a" stroke-width="1"/>
<circle cx="523.60" cy="1162.55" r="3.94" fill="#fff" stroke="#0a0a0a" stroke-width="1"/>
<polygon points="61.00,1137.98 69.20,1137.98 65.10,1144.88" fill="#0a0a0a"/>
<polygon points="138.95,1159.38 147.15,1159.38 143.05,1166.28" fill="#0a0a0a"/>
<polygon points="216.90,1160.96 225.10,1160.96 221.00,1167.87" fill="#0a0a0a"/>
<polygon points="294.85,1162.55 303.05,1162.55 298.95,1169.45" fill="#0a0a0a"/>
<polygon points="61.50,1132.74 68.70,1132.74 65.10,1139.04" fill="#fff" stroke="#0a0a0a" stroke-width="1"/>
<polygon points="139.45,1158.10 146.65,1158.10 143.05,1164.39" fill="#fff" stroke="#0a0a0a" stroke-width="1"/>
<polygon points="217.40,1160.47 224.60,1160.47 221.00,1166.77" fill="#fff" stroke="#0a0a0a" stroke-width="1"/>
<polygon points="295.35,1162.85 302.55,1162.85 298.95,1169.15" fill="#fff" stroke="#0a0a0a" stroke-width="1"/>
<polygon points="373.30,1162.85 380.50,1162.85 376.90,1169.15" fill="#fff" stroke="#0a0a0a" stroke-width="1"/>
<polygon points="451.25,1162.85 458.45,1162.85 454.85,1169.15" fill="#fff" stroke="#0a0a0a" stroke-width="1"/>
<polygon points="520.00,1162.85 527.20,1162.85 523.60,1169.15" fill="#fff" stroke="#0a0a0a" stroke-width="1"/>
<rect x="61.50" y="1152.93" width="7.20" height="7.20" fill="#0a0a0a"/>
<rect x="139.45" y="1160.85" width="7.20" height="7.20" fill="#0a0a0a"/>
<rect x="217.40" y="1160.85" width="7.20" height="7.20" fill="#0a0a0a"/>
<rect x="295.35" y="1160.85" width="7.20" height="7.20" fill="#0a0a0a"/>
</g>
<rect x="343.2" y="838.6" width="149.2" height="93.8" fill="none" stroke="#2a2a2a" stroke-width="1.15"/>
<line x1="351.3" y1="854.4" x2="381.9" y2="854.4" stroke="#0a0a0a" stroke-width="2.2" stroke-linecap="butt"/>
<circle cx="366.70" cy="854.40" r="4.10" fill="#0a0a0a"/>
<text transform="translate(388.4 858.6999999999999)" font-size="12" font-weight="normal" text-anchor="start" fill="#0a0a0a" stroke="#0a0a0a" stroke-width="0.28" textLength="77.2" lengthAdjust="spacingAndGlyphs">pMCP3gp120</text>
<line x1="351.3" y1="870.3" x2="381.9" y2="870.3" stroke="#0a0a0a" stroke-width="2.2" stroke-linecap="butt"/>
<circle cx="366.70" cy="870.30" r="3.65" fill="#fff" stroke="#0a0a0a" stroke-width="1"/>
<text transform="translate(388.4 874.5999999999999)" font-size="12" font-weight="normal" text-anchor="start" fill="#0a0a0a" stroke="#0a0a0a" stroke-width="0.28" textLength="89.5" lengthAdjust="spacingAndGlyphs">pMDCgp140-14</text>
<line x1="351.3" y1="886.1999999999999" x2="381.9" y2="886.1999999999999" stroke="#0a0a0a" stroke-width="2.2" stroke-linecap="butt"/>
<polygon points="362.60,884.30 370.80,884.30 366.70,891.20" fill="#0a0a0a"/>
<text transform="translate(388.4 890.4999999999999)" font-size="12" font-weight="normal" text-anchor="start" fill="#0a0a0a" stroke="#0a0a0a" stroke-width="0.28" textLength="41.5" lengthAdjust="spacingAndGlyphs">pgp120</text>
<line x1="351.3" y1="902.1" x2="381.9" y2="902.1" stroke="#0a0a0a" stroke-width="2.2" stroke-linecap="butt"/>
<polygon points="363.10,900.50 370.30,900.50 366.70,906.80" fill="#fff" stroke="#0a0a0a" stroke-width="1"/>
<text transform="translate(388.4 906.4)" font-size="12" font-weight="normal" text-anchor="start" fill="#0a0a0a" stroke="#0a0a0a" stroke-width="0.28" textLength="91.5" lengthAdjust="spacingAndGlyphs">pMCP3+pgp120</text>
<line x1="351.3" y1="918.0" x2="381.9" y2="918.0" stroke="#0a0a0a" stroke-width="2.2" stroke-linecap="butt"/>
<rect x="363.10" y="914.40" width="7.20" height="7.20" fill="#0a0a0a"/>
<text transform="translate(388.4 922.3)" font-size="12" font-weight="normal" text-anchor="start" fill="#0a0a0a" stroke="#0a0a0a" stroke-width="0.28" textLength="24" lengthAdjust="spacingAndGlyphs">PBS</text>
</g>
</svg>
</body></html>
